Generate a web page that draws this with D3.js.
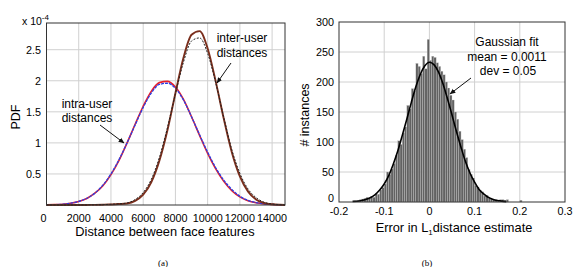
<!DOCTYPE html>
<html>
<head>
<meta charset="utf-8">
<script src="https://cdn.jsdelivr.net/npm/d3@7"></script>
<style>
  body { margin: 0; background: #fff; }
  svg { display: block; font-family: "Liberation Sans", Arial, sans-serif; }
</style>
</head>
<body>
<svg id="chart" width="574" height="267"></svg>
<script>
// ---- data, left panel (PDF in units of 1e-4) ----
const distX = [0, 500, 1000, 1500, 2000, 2500, 3000, 3500, 4000, 4500, 5000, 5500, 6000, 6500, 7000, 7500,
  8000, 8500, 9000, 9500, 10000, 10500, 11000, 11500, 12000, 12500, 13000, 13500, 14000, 14500, 14800];
const intraRed = [0.002, 0.006, 0.013, 0.028, 0.056, 0.106, 0.19, 0.31, 0.49, 0.72, 1.0, 1.30, 1.59, 1.83, 1.97, 1.99,
  1.90, 1.70, 1.42, 1.12, 0.83, 0.58, 0.38, 0.23, 0.13, 0.07, 0.037, 0.018, 0.008, 0.003, 0.002];
const intraBlue = [0.002, 0.006, 0.013, 0.029, 0.057, 0.108, 0.19, 0.32, 0.50, 0.73, 1.0, 1.29, 1.57, 1.80, 1.94, 1.96,
  1.88, 1.69, 1.42, 1.13, 0.85, 0.60, 0.40, 0.25, 0.14, 0.075, 0.04, 0.02, 0.009, 0.004, 0.002];
const interSolid = [0, 0, 0, 0, 0, 0.001, 0.002, 0.005, 0.009, 0.015, 0.024, 0.066, 0.166, 0.366, 0.71, 1.20,
  1.80, 2.37, 2.74, 2.80, 2.52, 1.99, 1.39, 0.85, 0.46, 0.22, 0.09, 0.033, 0.011, 0.003, 0.001];
const interDashed = [0, 0, 0, 0, 0, 0.001, 0.003, 0.006, 0.011, 0.019, 0.033, 0.088, 0.20, 0.41, 0.76, 1.24,
  1.79, 2.30, 2.64, 2.69, 2.44, 1.97, 1.41, 0.89, 0.51, 0.26, 0.12, 0.045, 0.016, 0.005, 0.002];
const leftXTicks = [0, 2000, 4000, 6000, 8000, 10000, 12000, 14000];
const leftYTicks = [0.5, 1, 1.5, 2, 2.5];

// ---- data, right panel ----
const binLeft = [-0.165, -0.16, -0.155, -0.15, -0.145, -0.14, -0.135, -0.13, -0.125, -0.12, -0.115, -0.11,
  -0.105, -0.1, -0.095, -0.09, -0.085, -0.08, -0.075, -0.07, -0.065, -0.06, -0.055, -0.05, -0.045, -0.04,
  -0.035, -0.03, -0.025, -0.02, -0.015, -0.01, -0.005, 0, 0.005, 0.01, 0.015, 0.02, 0.025, 0.03, 0.035,
  0.04, 0.045, 0.05, 0.055, 0.06, 0.065, 0.07, 0.075, 0.08, 0.085, 0.09, 0.095, 0.1, 0.105, 0.11, 0.115,
  0.12, 0.125, 0.13, 0.135, 0.14, 0.145, 0.15, 0.155, 0.16, 0.165, 0.17, 0.2];
const binCount = [2, 3, 4, 5, 6, 8, 6, 9, 8, 14, 13, 20,
  24, 30, 50, 46, 55, 64, 78, 102, 96, 115, 125, 161, 155, 189,
  185, 231, 226, 214, 243, 222, 271, 236, 243, 241, 232, 226, 218, 212, 200,
  190, 178, 170, 150, 138, 118, 104, 88, 74, 54, 46, 40, 28, 25, 20, 17,
  10, 11, 6, 5, 4, 4, 3, 4, 4, 3, 4, 3];
const binWidth = 0.005;
const fitX = [-0.17, -0.16, -0.15, -0.14, -0.13, -0.12, -0.11, -0.1, -0.09, -0.08, -0.07, -0.06, -0.05, -0.04,
  -0.03, -0.02, -0.01, 0, 0.01, 0.02, 0.03, 0.04, 0.05, 0.06, 0.07, 0.08, 0.09, 0.1, 0.11, 0.12, 0.13,
  0.14, 0.15, 0.16, 0.17];
const fitY = [1, 1.3, 2.4, 4.4, 7.5, 12.4, 19.9, 30, 44, 63, 85, 111, 138, 166,
  192, 213, 227, 233, 229, 217, 197, 172, 145, 117, 91, 67, 48, 33, 21, 13.5, 8,
  4.7, 2.6, 1.4, 0.7];
const rightXTicks = [-0.2, -0.1, 0, 0.1, 0.2, 0.3];
const rightYTicks = [0, 50, 100, 150, 200, 250, 300];

const svg = d3.select('#chart');
const grid = '#d0d0d0';
const frame = '#333';

// ================= left panel =================
const xa = d3.scaleLinear().domain([0, 14800]).range([46.5, 285]);
const ya = d3.scaleLinear().domain([0, 2.93]).range([205, 23]);
const pa = svg.append('g');

pa.selectAll('.gx').data(leftXTicks.slice(1)).join('line')
  .attr('x1', d => xa(d)).attr('x2', d => xa(d))
  .attr('y1', ya.range()[0]).attr('y2', ya.range()[1])
  .style('stroke', grid).style('stroke-width', 1);
pa.selectAll('.gy').data(leftYTicks).join('line')
  .attr('x1', xa.range()[0]).attr('x2', xa.range()[1])
  .attr('y1', d => ya(d)).attr('y2', d => ya(d))
  .style('stroke', grid).style('stroke-width', 1);

const lineA = (ys) => d3.line().x((d, i) => xa(distX[i])).y(d => ya(d)).curve(d3.curveMonotoneX)(ys);

pa.append('path').attr('d', lineA(intraRed))
  .style('fill', 'none').style('stroke', '#e8202a').style('stroke-width', 1.6);
pa.append('path').attr('d', lineA(intraBlue))
  .style('fill', 'none').style('stroke', '#2a3ee6').style('stroke-width', 1.3)
  .style('stroke-dasharray', '3,1');
pa.append('path').attr('d', lineA(interSolid))
  .style('fill', 'none').style('stroke', '#7a2e1c').style('stroke-width', 1.9);
pa.append('path').attr('d', lineA(interDashed))
  .style('fill', 'none').style('stroke', '#222').style('stroke-width', 1)
  .style('stroke-dasharray', '2,1.5');

pa.append('rect')
  .attr('x', xa.range()[0]).attr('y', ya.range()[1])
  .attr('width', xa.range()[1] - xa.range()[0]).attr('height', ya.range()[0] - ya.range()[1])
  .style('fill', 'none').style('stroke', frame).style('stroke-width', 1);

pa.selectAll('.tx').data(leftXTicks).join('text')
  .attr('x', d => d === 0 ? xa(d) - 3 : xa(d)).attr('y', 222)
  .attr('text-anchor', 'middle').style('font-size', '10.8px').text(d => d);
pa.selectAll('.ty').data(leftYTicks).join('text')
  .attr('x', 41).attr('y', d => ya(d) + 4)
  .attr('text-anchor', 'end').style('font-size', '10.8px').text(d => d);

const sc = pa.append('text').attr('x', 22).attr('y', 25).style('font-size', '10.5px');
sc.append('tspan').text('x 10');
sc.append('tspan').attr('dy', -5).style('font-size', '8px').text('-4');

pa.append('text').attr('transform', 'translate(20,117) rotate(-90)')
  .attr('text-anchor', 'middle').style('font-size', '12.5px').text('PDF');
pa.append('text').attr('x', 165).attr('y', 236)
  .attr('text-anchor', 'middle').style('font-size', '12.8px').text('Distance between face features');
pa.append('text').attr('x', 163).attr('y', 266)
  .attr('text-anchor', 'middle').style('font-family', '"Liberation Serif", serif').style('font-size', '9px').text('(a)');

svg.append('defs').append('marker')
  .attr('id', 'arr').attr('viewBox', '0 0 10 10').attr('refX', 9).attr('refY', 5)
  .attr('markerWidth', 6).attr('markerHeight', 6).attr('orient', 'auto')
  .append('path').attr('d', 'M0,1 L10,5 L0,9 z').style('fill', '#111');

pa.append('text').attr('x', 242).attr('y', 42).attr('text-anchor', 'middle')
  .style('font-size', '12px').text('inter-user');
pa.append('text').attr('x', 242).attr('y', 57).attr('text-anchor', 'middle')
  .style('font-size', '12px').text('distances');
pa.append('line').attr('x1', 231).attr('y1', 63).attr('x2', 217).attr('y2', 83)
  .style('stroke', '#111').style('stroke-width', 1).attr('marker-end', 'url(#arr)');

pa.append('text').attr('x', 87).attr('y', 108).attr('text-anchor', 'middle')
  .style('font-size', '12px').text('intra-user');
pa.append('text').attr('x', 87).attr('y', 122).attr('text-anchor', 'middle')
  .style('font-size', '12px').text('distances');
pa.append('line').attr('x1', 100).attr('y1', 125).attr('x2', 124).attr('y2', 143)
  .style('stroke', '#111').style('stroke-width', 1).attr('marker-end', 'url(#arr)');

// ================= right panel =================
const xb = d3.scaleLinear().domain([-0.2, 0.3]).range([339, 565]);
const yb = d3.scaleLinear().domain([0, 300]).range([202, 22]);
const pb = svg.append('g');

pb.selectAll('.gx').data(rightXTicks.slice(1, -1)).join('line')
  .attr('x1', d => xb(d)).attr('x2', d => xb(d))
  .attr('y1', yb.range()[0]).attr('y2', yb.range()[1])
  .style('stroke', grid).style('stroke-width', 1);
pb.selectAll('.gy').data(rightYTicks.slice(1, -1)).join('line')
  .attr('x1', xb.range()[0]).attr('x2', xb.range()[1])
  .attr('y1', d => yb(d)).attr('y2', d => yb(d))
  .style('stroke', grid).style('stroke-width', 1);

pb.selectAll('.bar').data(binCount).join('rect')
  .attr('x', (d, i) => xb(binLeft[i]))
  .attr('y', d => yb(d))
  .attr('width', xb(binWidth) - xb(0))
  .attr('height', d => yb(0) - yb(d))
  .style('fill', '#626262').style('stroke', '#cfcfcf').style('stroke-width', 0.3);

pb.append('path')
  .attr('d', d3.line().x((d, i) => xb(fitX[i])).y(d => yb(d)).curve(d3.curveMonotoneX)(fitY))
  .style('fill', 'none').style('stroke', '#000').style('stroke-width', 1.6);

pb.append('rect')
  .attr('x', xb.range()[0]).attr('y', yb.range()[1])
  .attr('width', xb.range()[1] - xb.range()[0]).attr('height', yb.range()[0] - yb.range()[1])
  .style('fill', 'none').style('stroke', frame).style('stroke-width', 1);

pb.selectAll('.tx').data(rightXTicks).join('text')
  .attr('x', d => xb(d)).attr('y', 215)
  .attr('text-anchor', 'middle').style('font-size', '10.8px').text(d => d);
pb.selectAll('.ty').data(rightYTicks).join('text')
  .attr('x', 334).attr('y', d => d === 0 ? yb(d) : yb(d) + 4)
  .attr('text-anchor', 'end').style('font-size', '10.8px').text(d => d);

pb.append('text').attr('transform', 'translate(309,115) rotate(-90)')
  .attr('text-anchor', 'middle').style('font-size', '12.5px').text('# instances');
const xl = pb.append('text').attr('x', 454).attr('y', 232)
  .attr('text-anchor', 'middle').style('font-size', '12.8px');
xl.append('tspan').text('Error in L');
xl.append('tspan').attr('dy', 3).style('font-size', '8px').text('1');
xl.append('tspan').attr('dy', -3).text('distance estimate');
pb.append('text').attr('x', 427).attr('y', 266)
  .attr('text-anchor', 'middle').style('font-family', '"Liberation Serif", serif').style('font-size', '9px').text('(b)');

pb.append('text').attr('x', 507).attr('y', 46).attr('text-anchor', 'middle')
  .style('font-size', '12px').text('Gaussian fit');
pb.append('text').attr('x', 507).attr('y', 61).attr('text-anchor', 'middle')
  .style('font-size', '12px').text('mean = 0.0011');
pb.append('text').attr('x', 508).attr('y', 75).attr('text-anchor', 'middle')
  .style('font-size', '12px').text('dev = 0.05');
pb.append('line').attr('x1', 471).attr('y1', 78).attr('x2', 450).attr('y2', 94)
  .style('stroke', '#111').style('stroke-width', 1).attr('marker-end', 'url(#arr)');
</script>
</body>
</html>
